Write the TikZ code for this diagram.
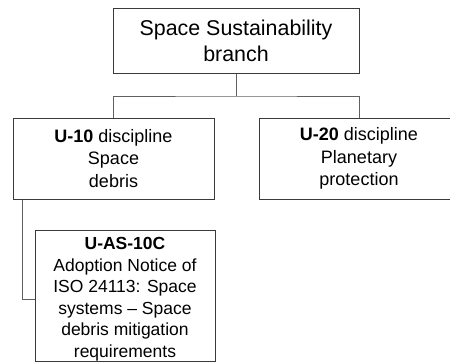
\documentclass[tikz,border=0pt]{standalone}
\usepackage{fontspec}
\setmainfont{Liberation Sans}
\definecolor{boxline}{HTML}{3A3A3A}
\definecolor{linkline}{HTML}{606060}
\tikzset{
  orgbox/.style={draw=boxline, line width=1pt, fill=white, align=center,
    inner sep=0pt, anchor=center},
  link/.style={draw=linkline, line width=1pt}
}
\begin{document}
\begin{tikzpicture}[x=1pt, y=-1pt]
  \useasboundingbox (0,0) rectangle (450,362);
  % branch
  \node[orgbox, minimum width=246pt, minimum height=65pt,
        font=\fontsize{21.4}{25.7}\selectfont] (top) at (236,40.5)
        {Space Sustainability\\branch};
  % disciplines
  \node[orgbox, minimum width=201pt, minimum height=81pt,
        font=\fontsize{18}{22.4}\selectfont] (u10) at (113.5,158.5)
        {\textbf{U-10} discipline\\Space\\debris};
  \node[orgbox, minimum width=200pt, minimum height=81pt,
        font=\fontsize{18}{22.4}\selectfont] (u20) at (359,158.5)
        {\textbf{U-20} discipline\\Planetary\\protection};
  % standard (first line strut lowers the text block a little)
  \node[orgbox, minimum width=180pt, minimum height=130pt,
        font=\fontsize{17.5}{21.6}\selectfont] (uas) at (125,296)
        {\rule{0pt}{18.5pt}\textbf{U-AS-10C}\\Adoption Notice of\\ISO 24113: Space\\systems -- Space\\debris mitigation\\requirements};
  % connectors
  \coordinate (hub) at (236,96);
  \draw[link] (top.south) -- (hub);
  \draw[link] (u10.north) |- (hub) -| (u20.north);
  \draw[link] ([xshift=10pt]u10.south west) |- ([yshift=-3pt]uas.west);
\end{tikzpicture}
\end{document}
